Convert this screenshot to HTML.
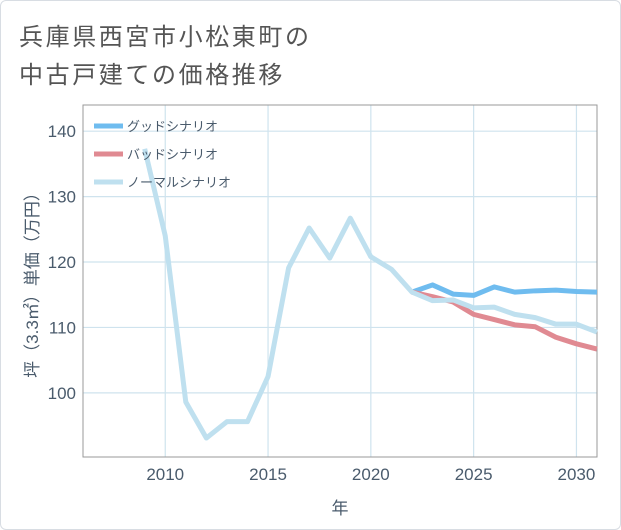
<!DOCTYPE html>
<html><head><meta charset="utf-8"><style>
body{margin:0;background:#fff;}
#wrap{position:relative;width:619px;height:528px;border:1px solid #d8dde3;border-radius:6px;overflow:hidden;background:#fff;}
.t{position:absolute;left:18px;font:24px "Liberation Sans","Noto Sans CJK JP",sans-serif;color:#555;letter-spacing:2.6px;white-space:nowrap;}
svg text{font-family:"Liberation Sans","Noto Sans CJK JP",sans-serif;}
</style></head><body>
<div id="wrap">
<div class="t" style="top:16px">兵庫県西宮市小松東町の</div>
<div class="t" style="top:54px">中古戸建ての価格推移</div>
<svg id="chart" width="621" height="530" style="position:absolute;left:-1px;top:-1px"></svg>
</div>
<script>
const years=[2009,2010,2011,2012,2013,2014,2015,2016,2017,2018,2019,2020,2021,2022,2023,2024,2025,2026,2027,2028,2029,2030,2031];
const normal=[137.3,124,98.6,93.1,95.6,95.6,102.5,119.1,125.2,120.6,126.7,120.8,118.9,115.4,114.1,114.2,113,113.1,112,111.5,110.5,110.5,109.3];
const forecastYears=[2022,2023,2024,2025,2026,2027,2028,2029,2030,2031];
const good=[115.4,116.5,115.1,114.9,116.2,115.4,115.6,115.7,115.5,115.4];
const bad=[115.4,114.7,113.9,112,111.2,110.4,110.1,108.5,107.5,106.7];
const xTicks=[2010,2015,2020,2025,2030];
const yTicks=[100,110,120,130,140];
const legendLabels=["グッドシナリオ","バッドシナリオ","ノーマルシナリオ"];
const L=83,R=597,T=105,B=457,x0=2006,x1=2031,y0=90.2,y1=144;
const sx=v=>L+(v-x0)/(x1-x0)*(R-L), sy=v=>B-(v-y0)/(y1-y0)*(B-T);
const svg=document.getElementById('chart'),NS='http://www.w3.org/2000/svg';
function el(t,a,txt){const e=document.createElementNS(NS,t);for(const k in a)e.setAttribute(k,a[k]);if(txt!=null)e.textContent=txt;svg.appendChild(e);return e;}
xTicks.forEach(v=>{const g=el('line',{x1:sx(v),x2:sx(v),y1:T,y2:B,stroke:'#cfe3ee','stroke-width':1.2});

const t=el('text',{x:sx(v),y:B+23,'text-anchor':'middle','font-size':17,fill:'#4a5b6c'},v);
});
yTicks.forEach(v=>{const g=el('line',{x1:L,x2:R,y1:sy(v),y2:sy(v),stroke:'#cfe3ee','stroke-width':1.2});

const t=el('text',{x:L-7,y:sy(v)+6,'text-anchor':'end','font-size':17,fill:'#4a5b6c'},v);
});
const fr=el('rect',{x:L,y:T,width:R-L,height:B-T,fill:'none',stroke:'#999','stroke-width':1});

function line(xs,ys,c,n){const p=el('polyline',{points:xs.map((x,i)=>sx(x)+','+sy(ys[i])).join(' '),fill:'none',stroke:c,'stroke-width':5,'stroke-linejoin':'round'});
}
line(forecastYears,good,'#6fbcef','good-scenario-line');
line(forecastYears,bad,'#e08a92','bad-scenario-line');
line(years,normal,'#bfe0ef','normal-scenario-line');
const lc=['#6fbcef','#e08a92','#bfe0ef'];
legendLabels.forEach((s,i)=>{const y=126+i*28;
const m=el('line',{x1:94,x2:123,y1:y,y2:y,stroke:lc[i],'stroke-width':5});

const t=el('text',{x:127,y:y+5,'font-size':13,fill:'#4a5b6c'},s);
});
const xt=el('text',{x:340,y:514,'text-anchor':'middle','font-size':17,fill:'#4a5b6c'},'年');

const yt=el('text',{x:0,y:0,'text-anchor':'middle','font-size':17,fill:'#4a5b6c',transform:'translate(38,281) rotate(-90)'},'坪（3.3㎡）単価（万円）');

</script>
</body></html>
